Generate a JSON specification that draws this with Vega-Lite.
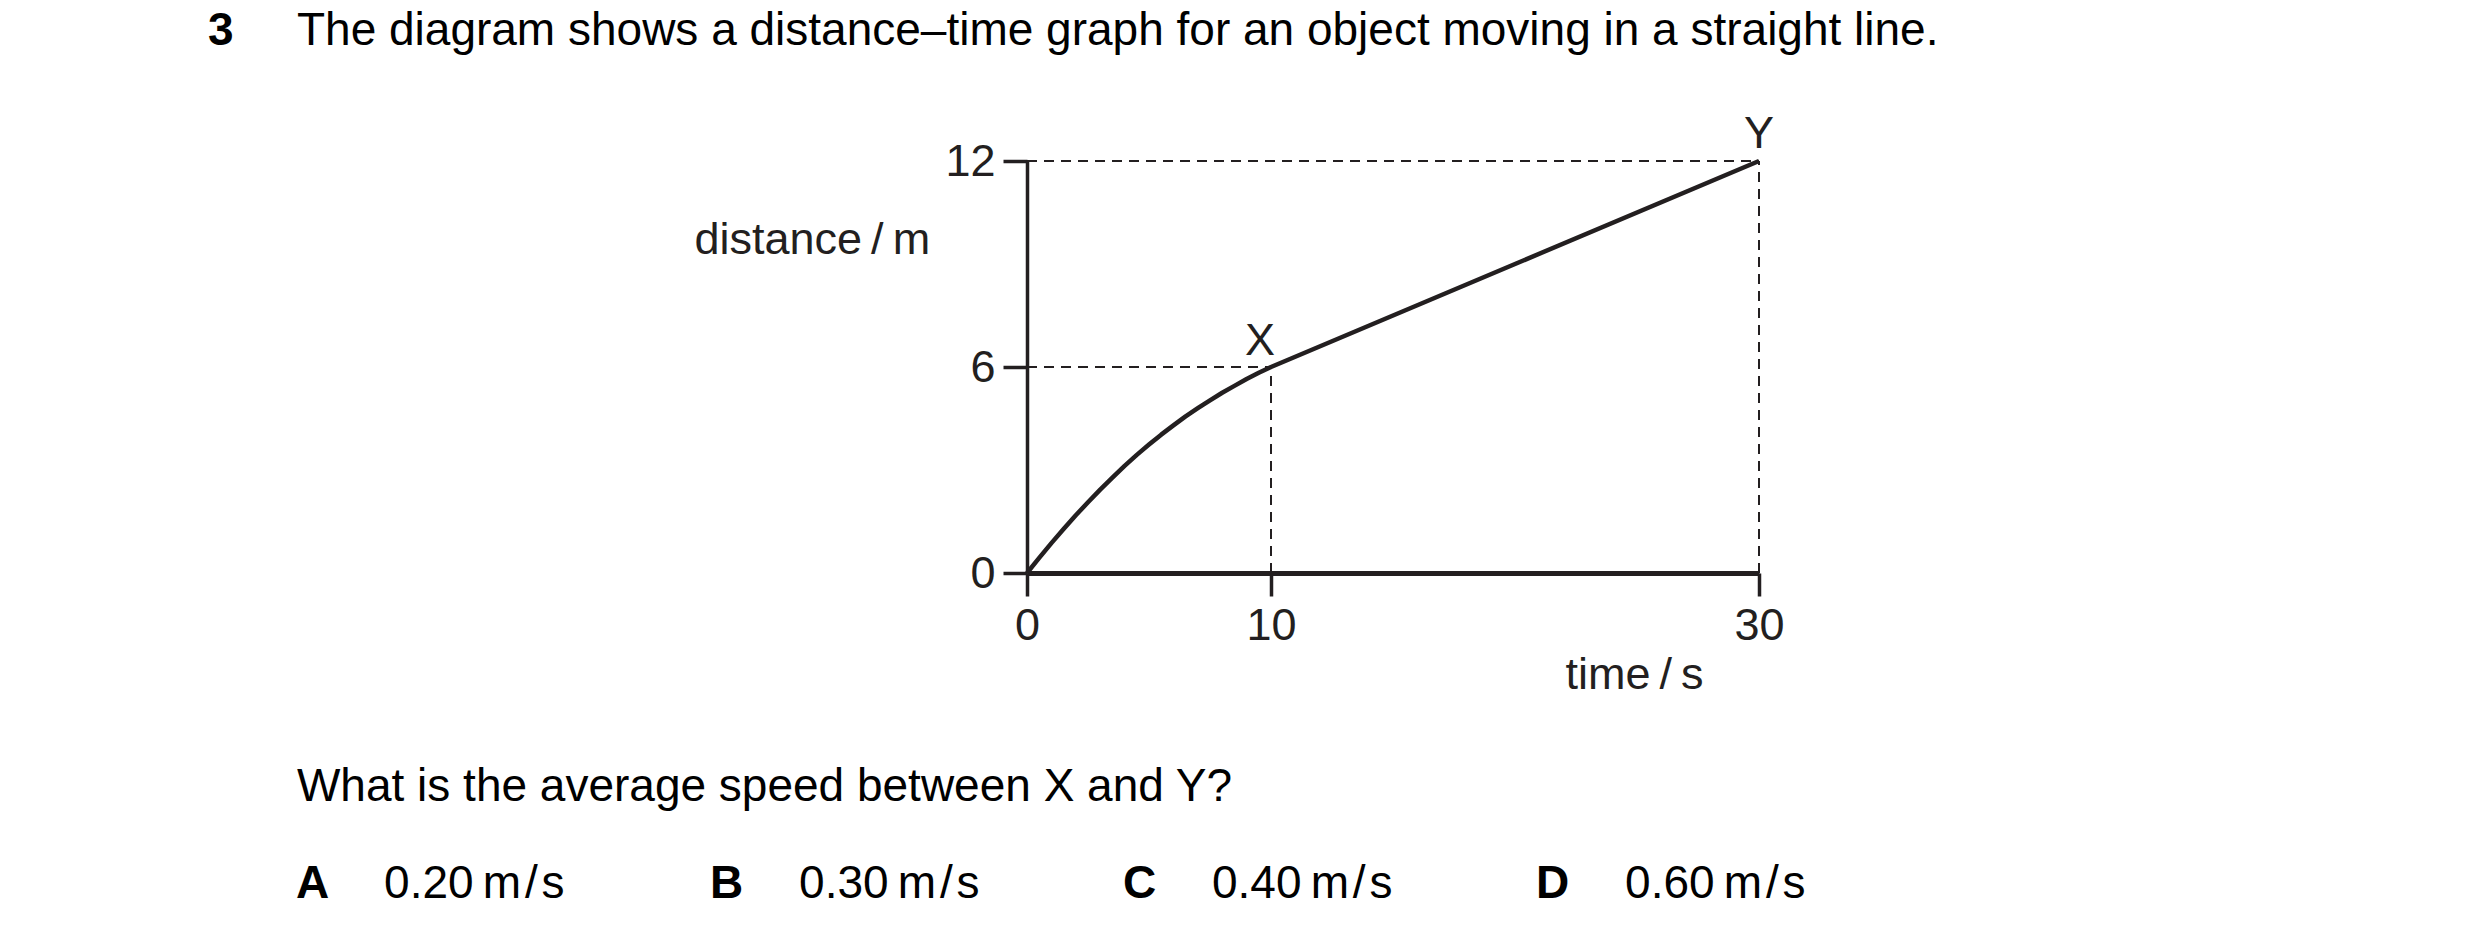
{
  "$schema": "https://vega.github.io/schema/vega-lite/v6.json",
  "width": 732,
  "height": 412,
  "autosize": {"type": "none"},
  "padding": {"left": 1027, "top": 161, "right": 721, "bottom": 365},
  "background": "white",
  "config": {
    "view": {"stroke": null},
    "font": "Liberation Sans",
    "axis": {
      "grid": false,
      "zindex": 1,
      "domainColor": "#231f20",
      "tickColor": "#231f20",
      "tickWidth": 3.5,
      "labelFont": "Liberation Sans",
      "labelFontSize": 45,
      "labelColor": "#231f20",
      "labelFlush": false,
      "labelOverlap": false,
      "titleFont": "Liberation Sans",
      "titleFontSize": 45,
      "titleFontWeight": "normal",
      "titleColor": "#231f20",
      "titleAngle": 0,
      "titleAlign": "left",
      "titleBaseline": "alphabetic"
    },
    "axisX": {"domainWidth": 5, "tickSize": 23, "labelPadding": 7, "titleX": 538, "titleY": 115},
    "axisY": {"domainWidth": 3.5, "tickSize": 24, "labelPadding": 8, "titleX": -333, "titleY": 92}
  },
  "datasets": {
    "curve": [
      {"t": 0, "d": 0},
      {"t": 0.5, "d": 0.44},
      {"t": 1, "d": 0.87},
      {"t": 1.5, "d": 1.28},
      {"t": 2, "d": 1.68},
      {"t": 2.5, "d": 2.06},
      {"t": 3, "d": 2.43},
      {"t": 3.5, "d": 2.78},
      {"t": 4, "d": 3.12},
      {"t": 4.5, "d": 3.44},
      {"t": 5, "d": 3.74},
      {"t": 5.5, "d": 4.03},
      {"t": 6, "d": 4.3},
      {"t": 6.5, "d": 4.56},
      {"t": 7, "d": 4.8},
      {"t": 7.5, "d": 5.03},
      {"t": 8, "d": 5.25},
      {"t": 8.5, "d": 5.45},
      {"t": 9, "d": 5.65},
      {"t": 9.5, "d": 5.83},
      {"t": 10, "d": 6},
      {"t": 30, "d": 12}
    ],
    "guides": [
      {"t": 0, "d": 6, "t2": 10, "d2": 6},
      {"t": 10, "d": 0, "t2": 10, "d2": 6},
      {"t": 0, "d": 12, "t2": 30, "d2": 12},
      {"t": 30, "d": 0, "t2": 30, "d2": 12}
    ],
    "points": [
      {"name": "X", "t": 10, "d": 6},
      {"name": "Y", "t": 30, "d": 12}
    ]
  },
  "layer": [
    {
      "data": {"name": "guides"},
      "mark": {"type": "rule", "strokeDash": [10, 7], "strokeWidth": 2, "color": "#231f20"},
      "encoding": {
        "x": {
          "field": "t",
          "type": "quantitative",
          "scale": {"domain": [0, 30], "nice": false, "zero": false},
          "axis": {"title": "time\u2009/\u2009s", "values": [0, 10, 30]}
        },
        "y": {
          "field": "d",
          "type": "quantitative",
          "scale": {"domain": [0, 12], "nice": false},
          "axis": {"title": "distance\u2009/\u2009m", "values": [0, 6, 12]}
        },
        "x2": {"field": "t2"},
        "y2": {"field": "d2"}
      }
    },
    {
      "data": {"name": "curve"},
      "mark": {"type": "line", "interpolate": "linear", "strokeWidth": 4.5, "strokeJoin": "round", "color": "#231f20"},
      "encoding": {
        "x": {"field": "t", "type": "quantitative", "axis": {"title": "time\u2009/\u2009s"}},
        "y": {"field": "d", "type": "quantitative", "axis": {"title": "distance\u2009/\u2009m"}}
      }
    },
    {
      "data": {"name": "points"},
      "transform": [{"filter": "datum.name === 'X'"}],
      "mark": {"type": "text", "fontSize": 45, "font": "Liberation Sans", "color": "#231f20", "align": "center", "baseline": "alphabetic", "dx": -11, "dy": -12},
      "encoding": {
        "x": {"field": "t", "type": "quantitative", "axis": {"title": "time\u2009/\u2009s"}},
        "y": {"field": "d", "type": "quantitative", "axis": {"title": "distance\u2009/\u2009m"}},
        "text": {"field": "name"}
      }
    },
    {
      "data": {"name": "points"},
      "transform": [{"filter": "datum.name === 'Y'"}],
      "mark": {"type": "text", "fontSize": 45, "font": "Liberation Sans", "color": "#231f20", "align": "center", "baseline": "alphabetic", "dx": 0, "dy": -13},
      "encoding": {
        "x": {"field": "t", "type": "quantitative", "axis": {"title": "time\u2009/\u2009s"}},
        "y": {"field": "d", "type": "quantitative", "axis": {"title": "distance\u2009/\u2009m"}},
        "text": {"field": "name"}
      }
    },
    {
      "data": {"values": [{"k": 1}]},
      "mark": {"type": "text", "fontSize": 46, "font": "Liberation Sans", "fontWeight": "bold", "color": "black", "align": "left", "baseline": "alphabetic"},
      "encoding": {"x": {"datum": -33.57}, "y": {"datum": 15.38}, "text": {"value": "3"}}
    },
    {
      "data": {"values": [{"k": 1}]},
      "mark": {"type": "text", "fontSize": 46, "font": "Liberation Sans", "color": "black", "align": "left", "baseline": "alphabetic"},
      "encoding": {"x": {"datum": -29.92}, "y": {"datum": 15.38}, "text": {"value": "The diagram shows a distance–time graph for an object moving in a straight line."}}
    },
    {
      "data": {"values": [{"k": 1}]},
      "mark": {"type": "text", "fontSize": 46, "font": "Liberation Sans", "color": "black", "align": "left", "baseline": "alphabetic"},
      "encoding": {"x": {"datum": -29.92}, "y": {"datum": -6.64}, "text": {"value": "What is the average speed between X and Y?"}}
    },
    {
      "data": {"values": [{"k": 1}]},
      "mark": {"type": "text", "fontSize": 46, "font": "Liberation Sans", "fontWeight": "bold", "color": "black", "align": "left", "baseline": "alphabetic"},
      "encoding": {"x": {"datum": -29.96}, "y": {"datum": -9.47}, "text": {"value": "A"}}
    },
    {
      "data": {"values": [{"k": 1}]},
      "mark": {"type": "text", "fontSize": 46, "font": "Liberation Sans", "color": "black", "align": "left", "baseline": "alphabetic"},
      "encoding": {"x": {"datum": -26.35}, "y": {"datum": -9.47}, "text": {"value": "0.20\u2009m\u200a/\u200as"}}
    },
    {
      "data": {"values": [{"k": 1}]},
      "mark": {"type": "text", "fontSize": 46, "font": "Liberation Sans", "fontWeight": "bold", "color": "black", "align": "left", "baseline": "alphabetic"},
      "encoding": {"x": {"datum": -12.99}, "y": {"datum": -9.47}, "text": {"value": "B"}}
    },
    {
      "data": {"values": [{"k": 1}]},
      "mark": {"type": "text", "fontSize": 46, "font": "Liberation Sans", "color": "black", "align": "left", "baseline": "alphabetic"},
      "encoding": {"x": {"datum": -9.34}, "y": {"datum": -9.47}, "text": {"value": "0.30\u2009m\u200a/\u200as"}}
    },
    {
      "data": {"values": [{"k": 1}]},
      "mark": {"type": "text", "fontSize": 46, "font": "Liberation Sans", "fontWeight": "bold", "color": "black", "align": "left", "baseline": "alphabetic"},
      "encoding": {"x": {"datum": 3.93}, "y": {"datum": -9.47}, "text": {"value": "C"}}
    },
    {
      "data": {"values": [{"k": 1}]},
      "mark": {"type": "text", "fontSize": 46, "font": "Liberation Sans", "color": "black", "align": "left", "baseline": "alphabetic"},
      "encoding": {"x": {"datum": 7.58}, "y": {"datum": -9.47}, "text": {"value": "0.40\u2009m\u200a/\u200as"}}
    },
    {
      "data": {"values": [{"k": 1}]},
      "mark": {"type": "text", "fontSize": 46, "font": "Liberation Sans", "fontWeight": "bold", "color": "black", "align": "left", "baseline": "alphabetic"},
      "encoding": {"x": {"datum": 20.86}, "y": {"datum": -9.47}, "text": {"value": "D"}}
    },
    {
      "data": {"values": [{"k": 1}]},
      "mark": {"type": "text", "fontSize": 46, "font": "Liberation Sans", "color": "black", "align": "left", "baseline": "alphabetic"},
      "encoding": {"x": {"datum": 24.51}, "y": {"datum": -9.47}, "text": {"value": "0.60\u2009m\u200a/\u200as"}}
    }
  ]
}
